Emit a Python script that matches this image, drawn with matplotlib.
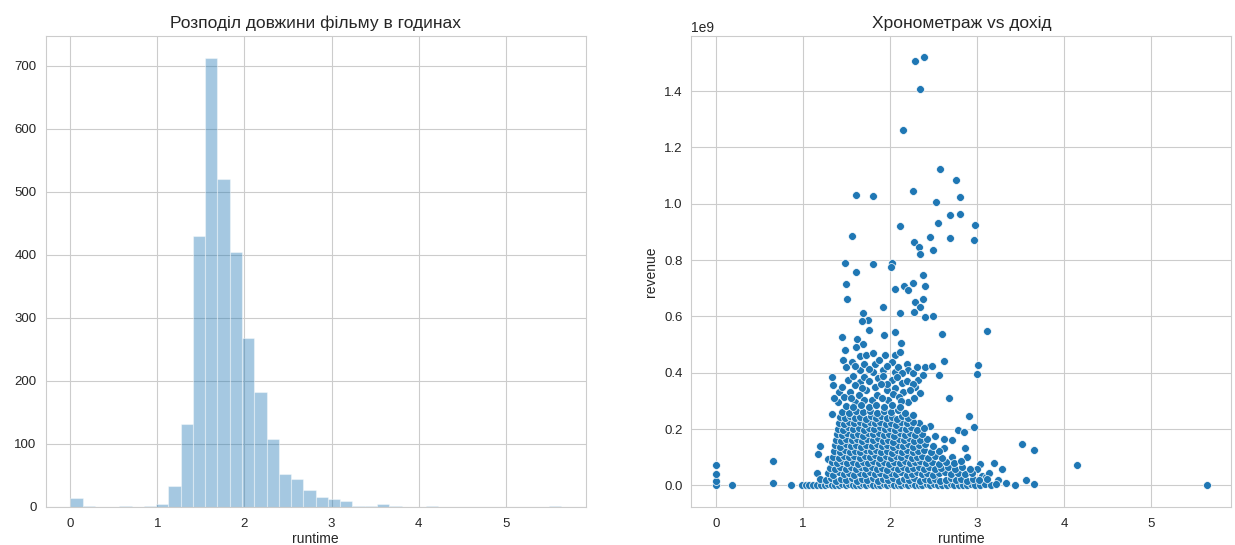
import numpy as np
import matplotlib
matplotlib.use('Agg')
import matplotlib.pyplot as plt
import seaborn as sns

# histogram of runtime (hours), 40 bins from 0 to the longest film
runtime_min, runtime_max = 0.0, 5.633
hist_counts = [14, 1, 0, 0, 2, 0, 1, 5, 33, 131,
               430, 712, 521, 405, 268, 182, 108, 52, 44, 26,
               15, 12, 9, 2, 1, 4, 1, 0, 0, 1,
               0, 0, 0, 0, 0, 0, 0, 0, 0, 1]

# scatter points: (runtime in hours, revenue in 1e9)
top_points = [
    (2.285, 1.508), (2.39, 1.520), (2.344, 1.406), (2.145, 1.263),
    (2.57, 1.125), (2.757, 1.085), (1.608, 1.032), (1.80, 1.028), (2.26, 1.046),
    (2.53, 1.006), (2.81, 1.024), (2.684, 0.961), (2.81, 0.963), (2.557, 0.933),
    (2.98, 0.925), (2.119, 0.923), (1.565, 0.886), (2.461, 0.881), (2.684, 0.880),
    (2.97, 0.872), (2.28, 0.866), (2.33, 0.848), (2.49, 0.836), (2.346, 0.821),
    (1.48, 0.789), (1.80, 0.785), (2.02, 0.791), (2.01, 0.775), (1.615, 0.758),
    (2.376, 0.747), (1.50, 0.715), (2.06, 0.697), (2.165, 0.708), (2.26, 0.718),
    (2.40, 0.708), (2.21, 0.694), (1.51, 0.662), (2.29, 0.652), (2.376, 0.662),
    (2.346, 0.635), (1.915, 0.635), (2.119, 0.611), (2.28, 0.615), (2.40, 0.599),
    (2.49, 0.602), (1.692, 0.611), (1.75, 0.587), (1.673, 0.585), (1.76, 0.552),
    (2.058, 0.546), (1.453, 0.528), (1.623, 0.520), (1.692, 0.504), (1.934, 0.534),
    (2.122, 0.506), (2.595, 0.536), (3.12, 0.549), (1.48, 0.48), (1.615, 0.492),
]

mid_points = [
    (1.46, 0.447), (1.654, 0.459), (1.73, 0.463), (1.807, 0.471), (1.94, 0.463),
    (2.058, 0.463), (2.115, 0.474), (1.827, 0.433), (2.018, 0.439), (2.19, 0.433),
    (1.654, 0.409), (1.807, 0.403), (2.058, 0.403), (2.21, 0.409), (2.40, 0.419),
    (2.488, 0.423), (2.615, 0.442), (2.565, 0.391), (3.01, 0.427), (3.0, 0.394),
    (1.334, 0.385), (1.346, 0.356), (1.519, 0.374), (1.654, 0.368), (1.865, 0.380),
    (2.018, 0.374), (2.134, 0.362), (2.326, 0.374), (2.384, 0.391), (2.288, 0.350),
    (1.412, 0.332), (1.539, 0.332), (1.73, 0.338), (1.96, 0.338), (2.153, 0.332),
    (2.68, 0.312), (1.404, 0.296), (1.596, 0.296), (1.788, 0.302), (1.98, 0.302),
    (2.21, 0.296), (1.50, 0.42), (1.56, 0.44), (1.60, 0.425), (1.70, 0.43),
    (1.76, 0.415), (1.87, 0.445), (1.92, 0.41), (1.97, 0.425), (2.09, 0.42),
    (2.14, 0.40), (2.26, 0.40), (2.31, 0.42), (1.58, 0.39), (1.70, 0.385),
    (1.76, 0.37), (1.92, 0.39), (1.97, 0.36), (2.08, 0.385), (2.19, 0.37),
    (2.26, 0.36), (1.45, 0.35), (1.60, 0.355), (1.68, 0.345), (1.83, 0.35),
    (1.90, 0.36), (2.06, 0.345), (2.23, 0.34), (2.35, 0.33), (1.47, 0.315),
    (1.64, 0.32), (1.85, 0.32), (2.03, 0.325), (2.10, 0.315), (2.28, 0.31),
    (1.36, 0.31), (1.55, 0.31), (1.70, 0.305), (1.91, 0.31), (2.13, 0.30),
]

edge_points = [
    (0.0, 0.002), (0.0, 0.015), (0.0, 0.041), (0.0, 0.074), (0.18, 0.0),
    (0.654, 0.086), (0.654, 0.01), (0.865, 0.0), (4.15, 0.074), (5.64, 0.003),
    (3.52, 0.148), (3.66, 0.125), (3.29, 0.06), (3.19, 0.081), (3.04, 0.077),
    (3.06, 0.035), (3.10, 0.03), (3.14, 0.045), (3.24, 0.02), (3.0, 0.06),
    (3.33, 0.008), (3.44, 0.002), (3.56, 0.018), (3.65, 0.004),
    (2.96, 0.207), (2.91, 0.246), (2.78, 0.198), (2.845, 0.19), (2.71, 0.16),
    (2.615, 0.166), (2.52, 0.174), (2.46, 0.21), (2.335, 0.22), (2.626, 0.134),
    (2.865, 0.134), (2.71, 0.101), (2.883, 0.101), (1.193, 0.139), (1.173, 0.110),
    (1.288, 0.095), (1.165, 0.044), (1.334, 0.253),
]

base_points = [
    (0.99, 0.001), (1.03, 0.0), (1.07, 0.002), (1.12, 0.001), (1.16, 0.003),
    (1.21, 0.0), (1.25, 0.002), (1.29, 0.004), (1.33, 0.001), (1.37, 0.003),
    (1.41, 0.0), (1.45, 0.005), (1.49, 0.002), (1.53, 0.004), (1.57, 0.001),
    (1.61, 0.003), (1.65, 0.0), (1.69, 0.005), (1.73, 0.002), (1.77, 0.004),
    (1.81, 0.001), (1.85, 0.003), (1.89, 0.0), (1.93, 0.004), (1.97, 0.002),
    (2.01, 0.005), (2.05, 0.001), (2.09, 0.003), (2.13, 0.0), (2.17, 0.004),
    (2.21, 0.002), (2.25, 0.005), (2.29, 0.001), (2.33, 0.003), (2.37, 0.0),
    (2.42, 0.004), (2.46, 0.002), (2.51, 0.005), (2.55, 0.001), (2.60, 0.003),
    (2.65, 0.0), (2.70, 0.004), (2.74, 0.002), (2.79, 0.0), (2.84, 0.003),
    (2.88, 0.001), (2.93, 0.004), (2.98, 0.0), (3.03, 0.002), (3.09, 0.005),
    (3.16, 0.001), (3.22, 0.006),
]

low_points = [
    (1.19, 0.022), (1.26, 0.018), (1.32, 0.025), (1.38, 0.016), (1.44, 0.024),
    (1.50, 0.019), (1.56, 0.026), (1.62, 0.017), (1.68, 0.023), (1.74, 0.02),
    (1.80, 0.027), (1.86, 0.016), (1.92, 0.022), (1.98, 0.019), (2.04, 0.025),
    (2.10, 0.017), (2.16, 0.023), (2.22, 0.02), (2.28, 0.026), (2.34, 0.016),
    (2.40, 0.022), (2.46, 0.019), (2.52, 0.024), (2.58, 0.017), (2.64, 0.021),
    (2.70, 0.026), (2.76, 0.018), (2.82, 0.023), (2.88, 0.016), (2.95, 0.024),
    (3.02, 0.019), (3.12, 0.022),
    (1.29, 0.043), (1.35, 0.038), (1.41, 0.046), (1.47, 0.04), (1.53, 0.044),
    (1.59, 0.037), (1.65, 0.045), (1.71, 0.041), (1.77, 0.047), (1.83, 0.039),
    (1.89, 0.043), (1.95, 0.036), (2.01, 0.045), (2.07, 0.04), (2.13, 0.047),
    (2.19, 0.038), (2.25, 0.042), (2.31, 0.046), (2.37, 0.039), (2.43, 0.044),
    (2.49, 0.037), (2.56, 0.043), (2.63, 0.046), (2.70, 0.039), (2.78, 0.044),
    (2.86, 0.04), (2.94, 0.045),
    (1.31, 0.062), (1.37, 0.058), (1.43, 0.066), (1.49, 0.06), (1.55, 0.064),
    (1.61, 0.057), (1.67, 0.065), (1.73, 0.061), (1.79, 0.067), (1.85, 0.059),
    (1.91, 0.063), (1.97, 0.056), (2.03, 0.065), (2.09, 0.06), (2.15, 0.067),
    (2.21, 0.058), (2.27, 0.062), (2.33, 0.066), (2.39, 0.059), (2.45, 0.064),
    (2.52, 0.057), (2.59, 0.063), (2.67, 0.066), (2.75, 0.058), (2.83, 0.064),
    (2.92, 0.06),
    (1.33, 0.082), (1.39, 0.078), (1.45, 0.086), (1.51, 0.08), (1.57, 0.084),
    (1.63, 0.077), (1.69, 0.085), (1.75, 0.081), (1.81, 0.087), (1.87, 0.079),
    (1.93, 0.083), (1.99, 0.076), (2.05, 0.085), (2.11, 0.08), (2.17, 0.087),
    (2.23, 0.078), (2.29, 0.082), (2.35, 0.086), (2.41, 0.079), (2.48, 0.084),
    (2.56, 0.077), (2.64, 0.083), (2.74, 0.08), (2.82, 0.086),
]

cluster_points = [
    (1.35, 0.102), (1.41, 0.098), (1.47, 0.106), (1.53, 0.1), (1.59, 0.104),
    (1.65, 0.097), (1.71, 0.105), (1.77, 0.101), (1.83, 0.107), (1.89, 0.099),
    (1.95, 0.103), (2.01, 0.096), (2.07, 0.105), (2.13, 0.1), (2.19, 0.107),
    (2.25, 0.098), (2.31, 0.102), (2.37, 0.106), (2.44, 0.099), (2.52, 0.104),
    (2.60, 0.097),
    (1.36, 0.122), (1.42, 0.118), (1.48, 0.126), (1.54, 0.12), (1.60, 0.124),
    (1.66, 0.117), (1.72, 0.125), (1.78, 0.121), (1.84, 0.127), (1.90, 0.119),
    (1.96, 0.123), (2.02, 0.116), (2.08, 0.125), (2.14, 0.12), (2.20, 0.127),
    (2.26, 0.118), (2.32, 0.122), (2.39, 0.126), (2.47, 0.119), (2.56, 0.123),
    (1.37, 0.142), (1.43, 0.138), (1.49, 0.146), (1.55, 0.14), (1.61, 0.144),
    (1.67, 0.137), (1.73, 0.145), (1.79, 0.141), (1.85, 0.147), (1.91, 0.139),
    (1.97, 0.143), (2.03, 0.136), (2.09, 0.145), (2.15, 0.14), (2.21, 0.147),
    (2.27, 0.138), (2.33, 0.142), (2.40, 0.146), (2.49, 0.139),
    (1.38, 0.162), (1.44, 0.158), (1.50, 0.166), (1.56, 0.16), (1.62, 0.164),
    (1.68, 0.157), (1.74, 0.165), (1.80, 0.161), (1.86, 0.167), (1.92, 0.159),
    (1.98, 0.163), (2.04, 0.156), (2.10, 0.165), (2.16, 0.16), (2.22, 0.167),
    (2.28, 0.158), (2.35, 0.162), (2.43, 0.165),
    (1.39, 0.182), (1.45, 0.178), (1.51, 0.186), (1.57, 0.18), (1.63, 0.184),
    (1.69, 0.177), (1.75, 0.185), (1.81, 0.181), (1.87, 0.187), (1.93, 0.179),
    (1.99, 0.183), (2.05, 0.176), (2.11, 0.185), (2.17, 0.18), (2.23, 0.187),
    (2.29, 0.178), (2.37, 0.183),
    (1.40, 0.202), (1.46, 0.198), (1.52, 0.206), (1.58, 0.2), (1.64, 0.204),
    (1.70, 0.197), (1.76, 0.205), (1.82, 0.201), (1.88, 0.207), (1.94, 0.199),
    (2.00, 0.203), (2.06, 0.196), (2.12, 0.205), (2.18, 0.2), (2.24, 0.207),
    (2.31, 0.198), (2.39, 0.204),
    (1.41, 0.222), (1.47, 0.218), (1.53, 0.226), (1.59, 0.22), (1.65, 0.224),
    (1.71, 0.217), (1.77, 0.225), (1.83, 0.221), (1.89, 0.227), (1.95, 0.219),
    (2.01, 0.223), (2.07, 0.216), (2.13, 0.225), (2.19, 0.22), (2.26, 0.226),
    (1.42, 0.242), (1.48, 0.238), (1.54, 0.246), (1.60, 0.24), (1.66, 0.244),
    (1.72, 0.237), (1.78, 0.245), (1.84, 0.241), (1.90, 0.247), (1.96, 0.239),
    (2.02, 0.243), (2.08, 0.236), (2.14, 0.245), (2.21, 0.24), (2.27, 0.249),
    (1.45, 0.262), (1.53, 0.258), (1.61, 0.266), (1.69, 0.26), (1.77, 0.264),
    (1.85, 0.257), (1.93, 0.265), (2.01, 0.261), (2.09, 0.267), (2.17, 0.259),
    (1.49, 0.282), (1.58, 0.278), (1.67, 0.286), (1.76, 0.28), (1.84, 0.284),
    (1.93, 0.277), (2.02, 0.285), (2.12, 0.28),
]

sns.set_style('whitegrid')
plt.rcParams['font.family'] = ['Liberation Sans', 'DejaVu Sans']
plt.rcParams['xtick.major.pad'] = 4.5
plt.rcParams['ytick.major.pad'] = 3

fig, (ax1, ax2) = plt.subplots(1, 2, figsize=(12.35, 5.45), dpi=100)
fig.subplots_adjust(left=0.037, right=0.997, top=0.934, bottom=0.07, wspace=0.196)

# left: histogram
edges = np.linspace(runtime_min, runtime_max, len(hist_counts) + 1)
ax1.bar(edges[:-1], hist_counts, width=np.diff(edges), align='edge',
        color='#1f77b4', alpha=0.4, edgecolor='white', linewidth=0.8)
ax1.set_title('Розподіл довжини фільму в годинах', fontsize=12.5)
ax1.set_xlabel('runtime', labelpad=1.5)

# right: scatter
pts = np.array(top_points + mid_points + edge_points + base_points + low_points + cluster_points)
ax2.scatter(pts[:, 0], pts[:, 1] * 1e9, s=32, color='#1f77b4',
            edgecolor='white', linewidth=0.5)
ax2.set_title('Хронометраж vs дохід', fontsize=12.5)
ax2.set_xlabel('runtime', labelpad=1.5)
ax2.set_ylabel('revenue')

for ax in (ax1, ax2):
    ax.tick_params(labelsize=9.5)

fig.savefig('out.png', dpi=100)
